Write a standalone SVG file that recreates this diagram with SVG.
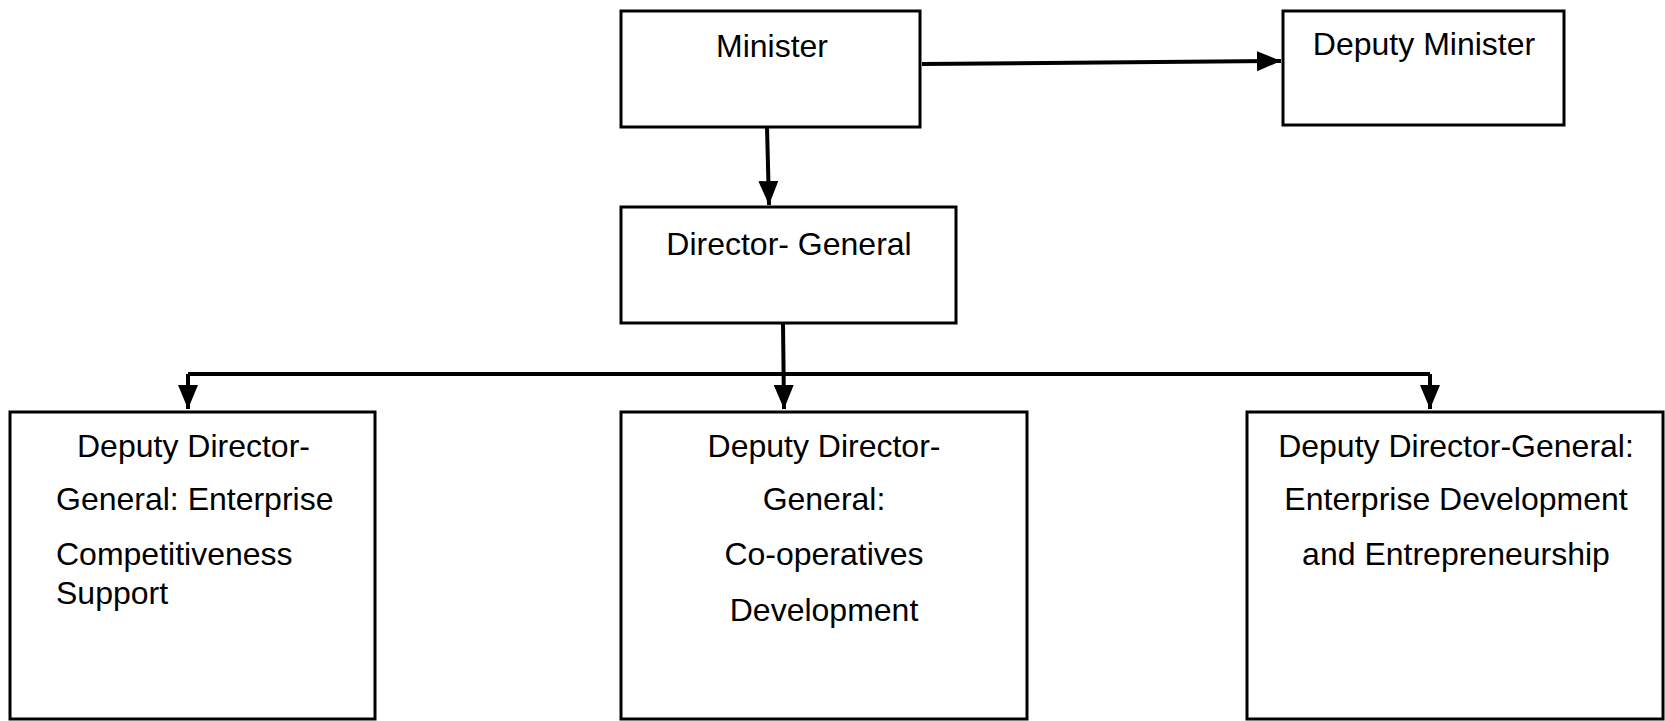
<svg xmlns="http://www.w3.org/2000/svg" width="1665" height="721" viewBox="0 0 1665 721">
<style>
.box{fill:#fff;stroke:#000;stroke-width:3}
.t{font-family:"Liberation Sans",Arial,sans-serif;font-size:32px;fill:#000}
.c{text-anchor:middle}
.ln{fill:none;stroke:#000;stroke-width:4}
</style>
<defs>
<marker id="ah" markerUnits="userSpaceOnUse" markerWidth="26" markerHeight="22" refX="24" refY="11" orient="auto">
<path d="M0,1 L24,11 L0,21 Z" fill="#000"/>
</marker>
</defs>
<rect width="1665" height="721" fill="#fff"/>
<g id="connectors">
<path class="ln" d="M922,64 L1281,61" marker-end="url(#ah)"/>
<path class="ln" d="M767,127 L769,205" marker-end="url(#ah)"/>
<path class="ln" d="M783,323 L784,409" marker-end="url(#ah)"/>
<path class="ln" d="M188,374 L1430,374"/>
<path class="ln" d="M188,374 L188,409" marker-end="url(#ah)"/>
<path class="ln" d="M1430,374 L1430,409" marker-end="url(#ah)"/>
</g>
<g id="minister">
<rect class="box" x="621" y="11" width="299" height="116"/>
<text class="t c" x="772" y="57">Minister</text>
</g>
<g id="deputy-minister">
<rect class="box" x="1283" y="11" width="281" height="114"/>
<text class="t c" x="1424" y="55">Deputy Minister</text>
</g>
<g id="director-general">
<rect class="box" x="621" y="207" width="335" height="116"/>
<text class="t c" x="789" y="255">Director- General</text>
</g>
<g id="ddg-ecs">
<rect class="box" x="10" y="412" width="365" height="307"/>
<text class="t" x="77" y="457">Deputy Director-</text>
<text class="t" x="56" y="510">General: Enterprise</text>
<text class="t" x="56" y="565">Competitiveness</text>
<text class="t" x="56" y="604">Support</text>
</g>
<g id="ddg-coop">
<rect class="box" x="621" y="412" width="406" height="307"/>
<text class="t c" x="824" y="457">Deputy Director-</text>
<text class="t c" x="824" y="510">General:</text>
<text class="t c" x="824" y="565">Co-operatives</text>
<text class="t c" x="824" y="621">Development</text>
</g>
<g id="ddg-ede">
<rect class="box" x="1247" y="412" width="416" height="307"/>
<text class="t c" x="1456" y="457">Deputy Director-General:</text>
<text class="t c" x="1456" y="510">Enterprise Development</text>
<text class="t c" x="1456" y="565">and Entrepreneurship</text>
</g>
</svg>
